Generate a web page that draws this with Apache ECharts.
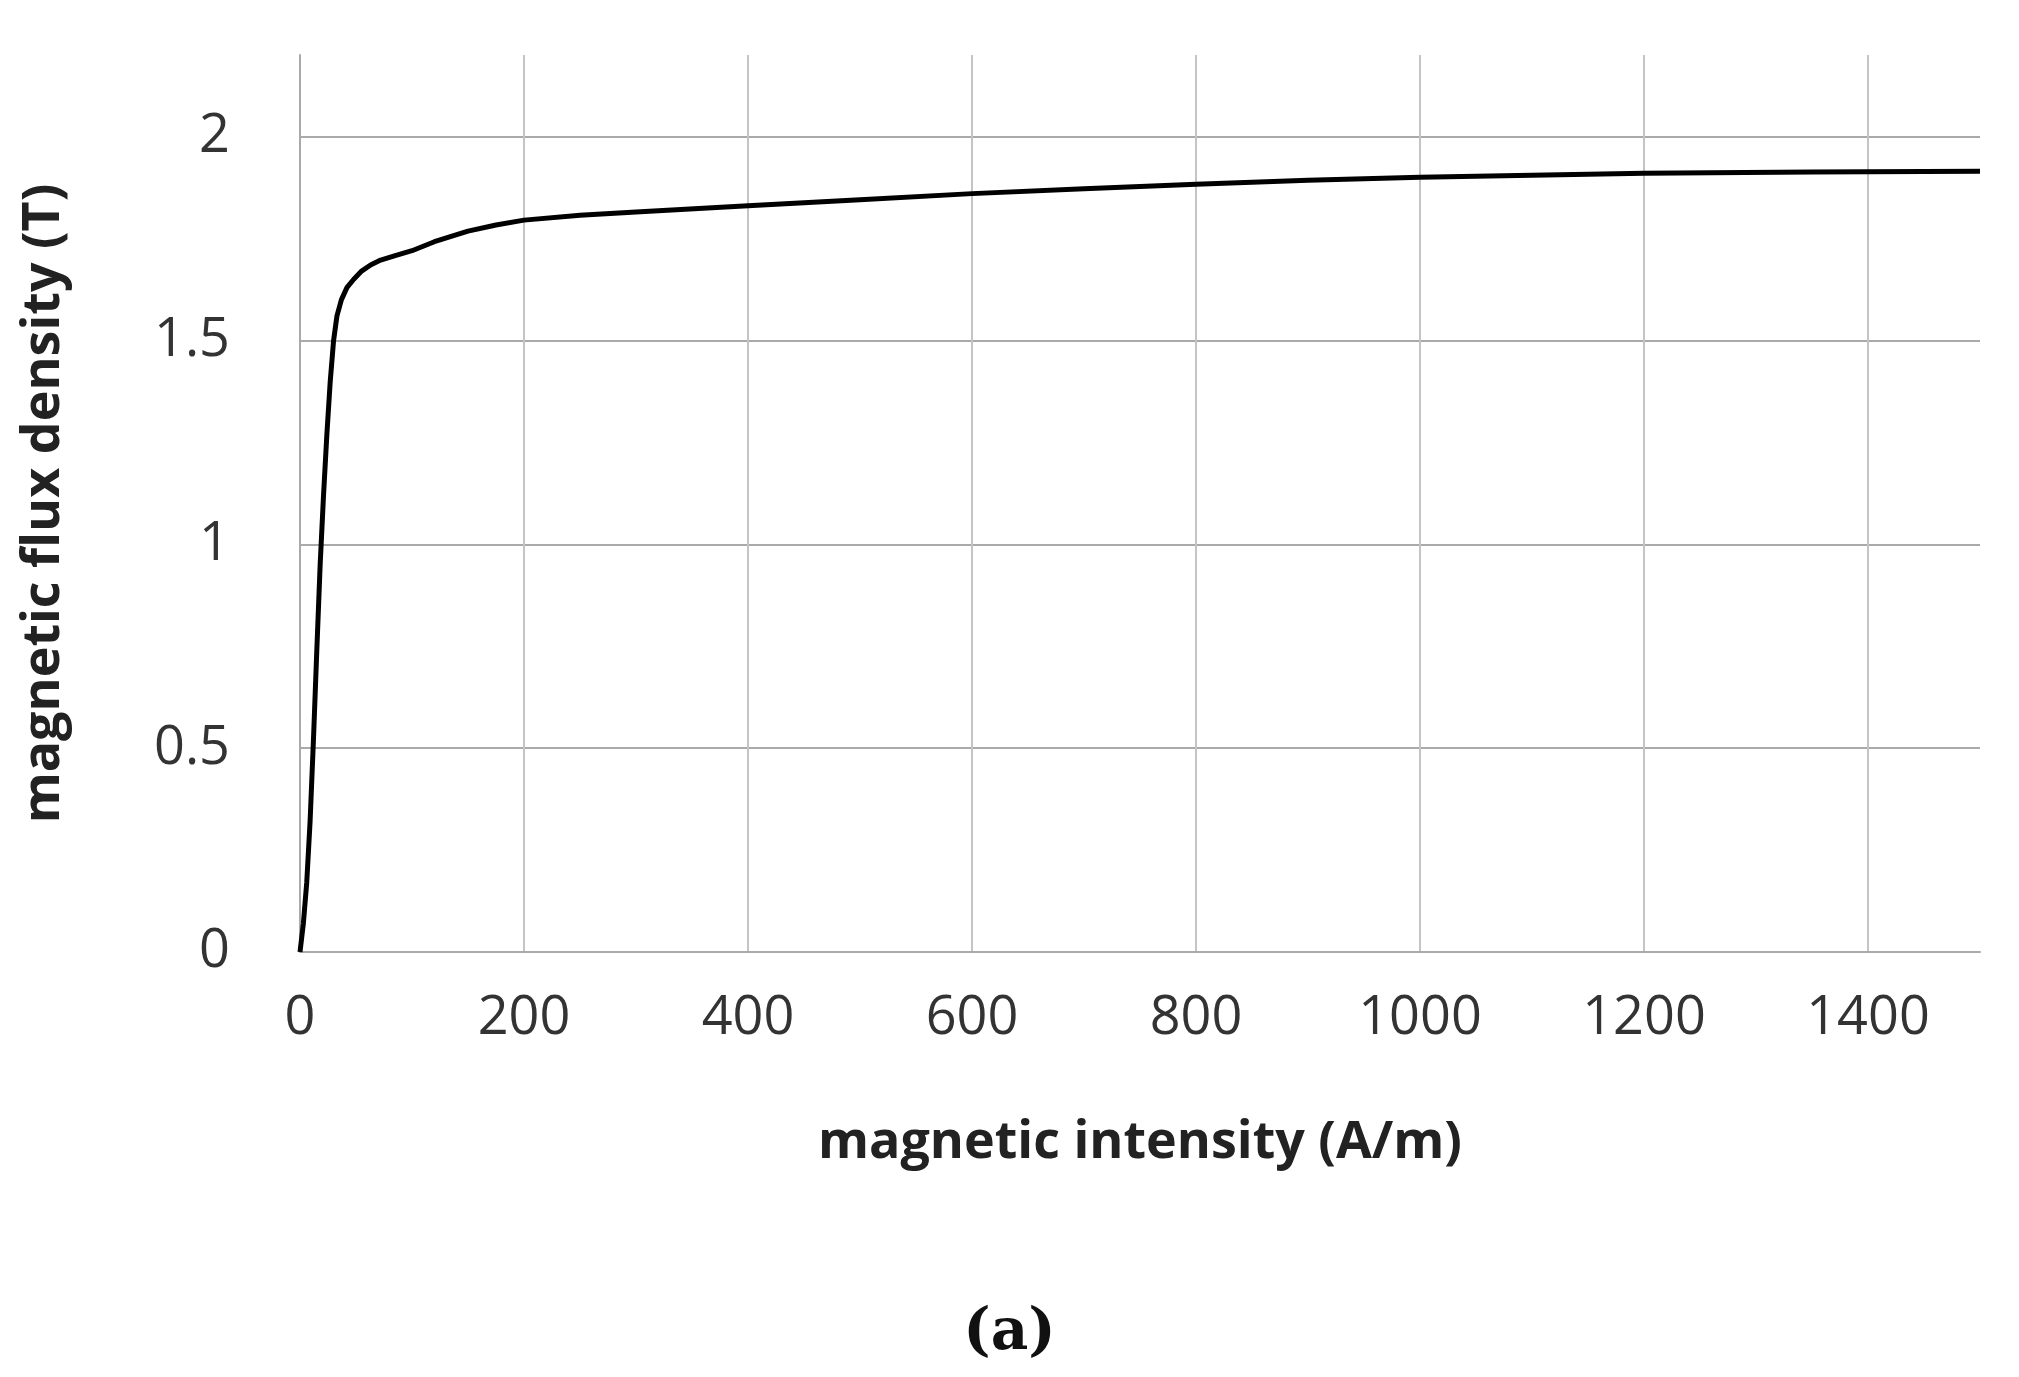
<!DOCTYPE html>
<html><head><meta charset="utf-8">
<script src="https://cdn.jsdelivr.net/npm/echarts@6/dist/echarts.min.js"></script>
<style>html,body{margin:0;padding:0;background:#fff}#c{width:2019px;height:1377px}</style>
</head><body><div id="c"></div>
<script>
const intensity = [0,3,6,9,12,15,18,21,24,27,30,33,37,42,48,55,63,72,85,100,120,150,175,200,250,300,400,500,600,700,800,900,1000,1100,1200,1350,1500];
const fluxDensity = [0,0.07,0.17,0.32,0.52,0.74,0.95,1.12,1.27,1.4,1.5,1.56,1.6,1.63,1.65,1.67,1.685,1.697,1.708,1.72,1.742,1.768,1.783,1.795,1.807,1.815,1.83,1.845,1.86,1.872,1.883,1.893,1.9,1.905,1.91,1.913,1.915];
const xTitle = 'magnetic intensity (A/m)';
const yTitle = 'magnetic flux density (T)';
const caption = '(a)';

const chart = echarts.init(document.getElementById('c'));
chart.setOption({
  animation:false,
  backgroundColor:'#fff',
  grid:{left:300,right:39,top:55,bottom:425},
  title:{text:caption,left:'center',top:1300,textStyle:{fontFamily:'DejaVu Serif',fontWeight:'bold',fontSize:58,color:'#111'}},
  xAxis:{type:'value',min:0,max:1500,interval:200,
    name:xTitle,nameLocation:'middle',nameGap:165,
    nameTextStyle:{fontFamily:'Open Sans',fontWeight:'bold',fontSize:52,color:'#222'},
    axisLine:{show:true,lineStyle:{color:'#aaa',width:2}},axisTick:{show:false},
    axisLabel:{fontFamily:'Open Sans',fontSize:54,color:'#333',margin:40,showMaxLabel:false,formatter:v=>String(v)},
    splitLine:{show:true,showMaxLine:false,lineStyle:{color:'#c4c4c4',width:2}}},
  yAxis:{type:'value',min:0,max:2.2,interval:0.5,
    name:yTitle,nameLocation:'middle',nameGap:230,nameRotate:90,
    nameTextStyle:{fontFamily:'Open Sans',fontWeight:'bold',fontSize:52,color:'#222'},
    axisLine:{show:true,lineStyle:{color:'#aaa',width:2}},axisTick:{show:false},
    axisLabel:{fontFamily:'Open Sans',fontSize:54,color:'#333',margin:70,showMaxLabel:false},
    splitLine:{show:true,showMaxLine:false,lineStyle:{color:'#aaa',width:2}}},
  series:[{type:'line',data:intensity.map((x,i)=>[x,fluxDensity[i]]),
    showSymbol:false,smooth:false,
    lineStyle:{color:'#000',width:5}}]
});
</script></body></html>
